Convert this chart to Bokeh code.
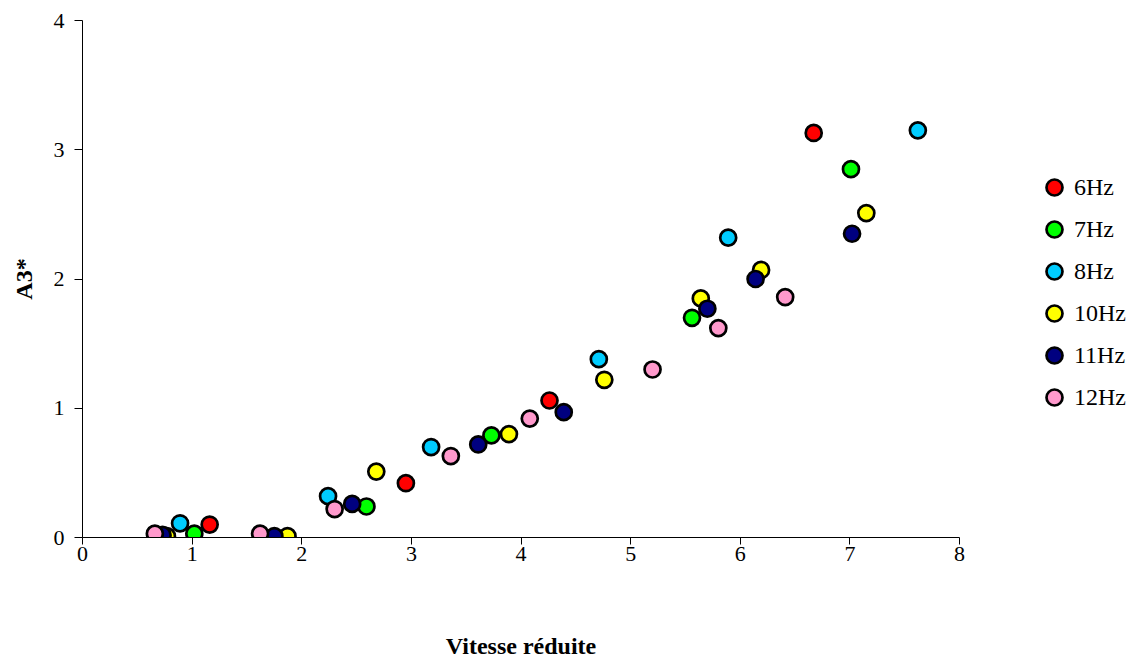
from bokeh.plotting import figure
from bokeh.models import Legend, LegendItem, Range1d, FixedTicker
from bokeh.layouts import row
from bokeh.embed import file_html
from bokeh.resources import INLINE

series_names = ["6Hz", "7Hz", "8Hz", "10Hz", "11Hz", "12Hz"]
colors = ["#FF0000", "#00FF00", "#00CCFF", "#FFFF00", "#000080", "#FF99CC"]

x_6hz = [1.16, 2.95, 4.26, 6.67]
y_6hz = [0.10, 0.42, 1.06, 3.13]
x_7hz = [1.02, 2.59, 3.73, 5.56, 7.01]
y_7hz = [0.03, 0.24, 0.79, 1.70, 2.85]
x_8hz = [0.89, 2.24, 3.18, 4.71, 5.89, 7.62]
y_8hz = [0.11, 0.32, 0.70, 1.38, 2.32, 3.15]
x_10hz = [0.77, 1.87, 2.68, 3.89, 4.76, 5.64, 6.19, 7.15]
y_10hz = [0.01, 0.01, 0.51, 0.80, 1.22, 1.85, 2.07, 2.51]
x_11hz = [0.73, 1.75, 2.46, 3.61, 4.39, 5.70, 6.14, 7.02]
y_11hz = [0.02, 0.01, 0.26, 0.72, 0.97, 1.77, 2.00, 2.35]
x_12hz = [0.66, 1.62, 2.30, 3.36, 4.08, 5.20, 5.80, 6.41]
y_12hz = [0.03, 0.03, 0.22, 0.63, 0.92, 1.30, 1.62, 1.86]

xs = [x_6hz, x_7hz, x_8hz, x_10hz, x_11hz, x_12hz]
ys = [y_6hz, y_7hz, y_8hz, y_10hz, y_11hz, y_12hz]

x_ticks = [0, 1, 2, 3, 4, 5, 6, 7, 8]
y_ticks = [0, 1, 2, 3, 4]

FONT = "Liberation Serif"
MARKER_SIZE = 16
MARKER_LW = 2.7

p = figure(frame_width=877, frame_height=517, output_backend="svg", toolbar_location=None,
           x_range=Range1d(0, 8), y_range=Range1d(0, 4),
           min_border_left=82, min_border_right=31, min_border_top=20, min_border_bottom=0)
p.outline_line_color = None
p.xgrid.visible = False
p.ygrid.visible = False

for name, c, xv, yv in zip(series_names, colors, xs, ys):
    p.scatter(xv, yv, marker="circle", size=MARKER_SIZE, fill_color=c,
              line_color="black", line_width=MARKER_LW)

for ax in (p.xaxis[0], p.yaxis[0]):
    ax.axis_line_color = "black"
    ax.major_tick_line_color = "black"
    ax.minor_tick_line_color = None
    ax.major_tick_in = 0
    ax.major_label_text_font = FONT
    ax.major_label_text_font_size = "22px"
    ax.major_label_text_color = "black"
    ax.axis_label_text_font = FONT
    ax.axis_label_text_font_size = "24px"
    ax.axis_label_text_font_style = "bold"
    ax.axis_label_text_color = "black"

p.xaxis.ticker = FixedTicker(ticks=x_ticks)
p.yaxis.ticker = FixedTicker(ticks=y_ticks)
p.xaxis.major_tick_out = 7
p.yaxis.major_tick_out = 8
p.xaxis.major_label_standoff = 2
p.yaxis.major_label_standoff = 10
p.xaxis.axis_label = "Vitesse réduite"
p.yaxis.axis_label = "A3*"
p.xaxis.axis_label_standoff = 69
p.yaxis.axis_label_standoff = 14

# legend panel (its renderers reuse the series data, kept outside the visible range)
lg = figure(frame_width=144, frame_height=517, output_backend="svg", toolbar_location=None,
            x_axis_location=None, y_axis_location=None,
            x_range=Range1d(-20, -19), y_range=Range1d(-20, -19),
            min_border_left=0, min_border_right=0, min_border_top=20, min_border_bottom=0)
lg.outline_line_color = None
lg.xgrid.visible = False
lg.ygrid.visible = False

items = []
for name, c, xv, yv in zip(series_names, colors, xs, ys):
    r = lg.scatter(xv, yv, marker="circle", size=MARKER_SIZE, fill_color=c,
                   line_color="black", line_width=MARKER_LW)
    items.append(LegendItem(label=name, renderers=[r]))

legend = Legend(items=items, location=(44, 120), orientation="vertical",
                border_line_color=None, background_fill_alpha=0,
                padding=0, margin=0, spacing=2,
                label_text_font=FONT, label_text_font_size="24px", label_text_color="black",
                label_height=20, glyph_height=40, glyph_width=40, label_standoff=0)
lg.add_layout(legend, "center")

layout = row(p, lg)
open("out.html", "w").write(file_html(layout, INLINE))
